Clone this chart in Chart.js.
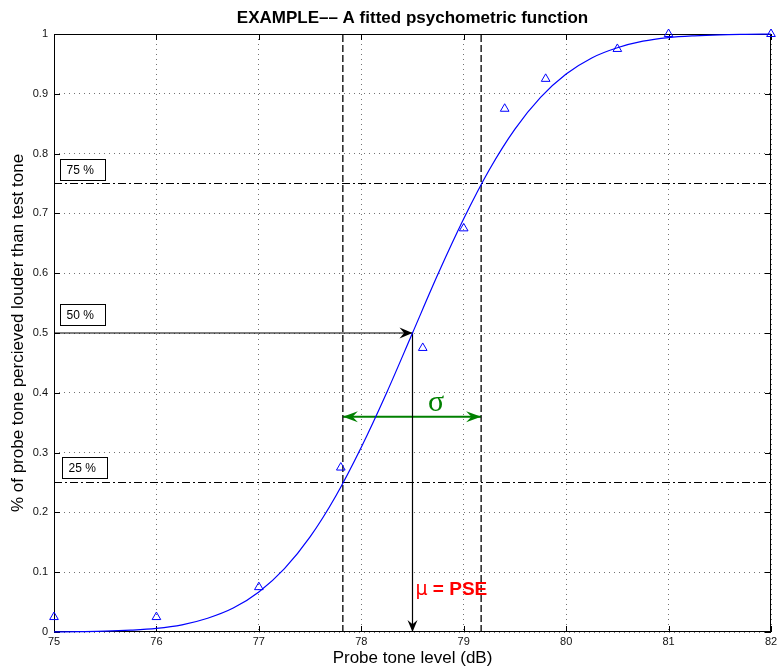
<!DOCTYPE html>
<html>
<head>
<meta charset="utf-8">
<script src="https://cdn.jsdelivr.net/npm/chart.js@4.4.1/dist/chart.umd.min.js"></script>
<style>
  html, body { margin: 0; padding: 0; background: #fff; }
</style>
</head>
<body>
<canvas id="psyChart" width="777" height="671"></canvas>
<script>
// observed proportions of "louder" responses
var levels = [75, 76, 77, 77.8, 78.6, 79, 79.4, 79.8, 80.5, 81, 82];
var proportions = [0.025, 0.025, 0.075, 0.275, 0.475, 0.675, 0.875, 0.925, 0.975, 1, 1];

// fitted psychometric curve
var fitLevels = [75, 75.25, 75.5, 75.75, 76, 76.25, 76.5, 76.75, 77, 77.25, 77.5, 77.75,
                 78, 78.25, 78.5, 78.75, 79, 79.25, 79.5, 79.75, 80, 80.25, 80.5, 80.75,
                 81, 81.25, 81.5, 81.75, 82];
var fitValues = [0.0002, 0.0006, 0.0013, 0.003, 0.006, 0.012, 0.023, 0.04, 0.067, 0.106, 0.159, 0.227,
                 0.309, 0.401, 0.5, 0.599, 0.691, 0.773, 0.841, 0.894, 0.933, 0.96, 0.977, 0.988,
                 0.994, 0.997, 0.9987, 0.9994, 0.9998];

// reference markers
var pse = 78.5;
var quartileLevels = [77.82, 79.17];
var quartileValues = [0.25, 0.75];
var sigmaY = 0.36;

// box labels: [text, x, y]
var boxLabels = [["75 %", 75.06, 0.775], ["50 %", 75.06, 0.531], ["25 %", 75.08, 0.276]];

var xRange = [75, 82];
var yRange = [0, 1];

var ctx = document.getElementById("psyChart").getContext("2d");

var green = "rgb(0,128,0)";

function pts(xs, ys) {
    return xs.map(function (x, i) { return {x: x, y: ys[i]}; });
}

var datasets = [
    {
        label: "fit",
        data: pts(fitLevels, fitValues),
        showLine: true,
        borderColor: "#0000ff",
        borderWidth: 1.2,
        pointRadius: 0,
        cubicInterpolationMode: "monotone",
        clip: 4
    },
    {
        label: "data",
        data: pts(levels, proportions),
        pointStyle: "triangle",
        pointRadius: 5,
        borderColor: "#0000ff",
        backgroundColor: "rgba(0,0,0,0)",
        pointBorderWidth: 1,
        clip: false
    }
];

// dash-dot lines at 25 % / 75 %
quartileValues.forEach(function (v) {
    datasets.push({
        data: [{x: xRange[0], y: v}, {x: xRange[1], y: v}],
        showLine: true, borderColor: "#000", borderWidth: 1,
        borderDash: [8, 3, 2, 3], pointRadius: 0
    });
});
// dashed lines at the quartile levels
quartileLevels.forEach(function (l) {
    datasets.push({
        data: [{x: l, y: yRange[0]}, {x: l, y: yRange[1]}],
        showLine: true, borderColor: "#000", borderWidth: 1.3,
        borderDash: [7, 3], pointRadius: 0
    });
});
// arrow from 50 % to the PSE and down to the axis
datasets.push({
    label: "pseArrow",
    data: [{x: xRange[0], y: 0.5}, {x: pse, y: 0.5}, {x: pse, y: 0}],
    showLine: true, borderColor: "#000", borderWidth: 1.2, pointRadius: 0, clip: false
});
// sigma span
datasets.push({
    label: "sigma",
    data: [{x: quartileLevels[0], y: sigmaY}, {x: quartileLevels[1], y: sigmaY}],
    showLine: true, borderColor: green, borderWidth: 2, pointRadius: 0
});

function arrowHead(c, x, y, ang, len, half, color) {
    c.save();
    c.translate(x, y);
    c.rotate(ang);
    c.fillStyle = color;
    c.beginPath();
    c.moveTo(0, 0);
    c.lineTo(-len, -half);
    c.lineTo(-len * 0.65, 0);
    c.lineTo(-len, half);
    c.closePath();
    c.fill();
    c.restore();
}

var decor = {
    id: "decor",
    beforeDatasetsDraw: function (chart) {
        var c = chart.ctx, a = chart.chartArea;
        var xs = chart.scales.x, ys = chart.scales.y;
        c.save();
        c.strokeStyle = "#000";
        c.lineWidth = 1;
        c.strokeRect(a.left + 0.5, a.top + 0.5, a.right - a.left - 1, a.bottom - a.top - 1);
        // inward tick marks on all four sides
        c.beginPath();
        xs.ticks.forEach(function (t) {
            var px = Math.round(xs.getPixelForValue(t.value)) + 0.5;
            c.moveTo(px, a.bottom); c.lineTo(px, a.bottom - 6);
            c.moveTo(px, a.top); c.lineTo(px, a.top + 6);
        });
        ys.ticks.forEach(function (t) {
            var py = Math.round(ys.getPixelForValue(t.value)) + 0.5;
            c.moveTo(a.left, py); c.lineTo(a.left + 6, py);
            c.moveTo(a.right, py); c.lineTo(a.right - 6, py);
        });
        c.stroke();
        c.restore();
    },
    afterDatasetsDraw: function (chart) {
        var c = chart.ctx, a = chart.chartArea;
        var xs = chart.scales.x, ys = chart.scales.y;
        var px = function (v) { return xs.getPixelForValue(v); };
        var py = function (v) { return ys.getPixelForValue(v); };

        // arrow heads
        arrowHead(c, px(pse), py(0.5), 0, 13, 5.5, "#000");
        arrowHead(c, px(pse), py(0), Math.PI / 2, 12, 5, "#000");
        arrowHead(c, px(quartileLevels[0]), py(sigmaY), Math.PI, 15, 5.5, green);
        arrowHead(c, px(quartileLevels[1]), py(sigmaY), 0, 15, 5.5, green);

        c.save();
        // title
        c.fillStyle = "#000";
        c.font = "bold 17px 'Liberation Sans', Arial, sans-serif";
        c.textAlign = "center";
        c.textBaseline = "middle";
        c.fillText("EXAMPLE\u2013\u2013 A fitted psychometric function", (a.left + a.right) / 2, 18);

        // boxed percentage labels
        c.font = "12px 'Liberation Sans', Arial, sans-serif";
        c.textAlign = "left";
        boxLabels.forEach(function (b) {
            var bx = Math.round(px(b[1])) + 0.5, by = Math.round(py(b[2])) - 10 + 0.5;
            c.fillStyle = "#fff";
            c.fillRect(bx, by, 45, 21);
            c.strokeStyle = "#000";
            c.lineWidth = 1;
            c.strokeRect(bx, by, 45, 21);
            c.fillStyle = "#000";
            c.fillText(b[0], bx + 6, by + 11);
        });

        // sigma label
        c.fillStyle = green;
        c.font = "30px 'Liberation Serif', serif";
        c.textAlign = "center";
        c.fillText("\u03c3", px(78.73), py(0.383));

        // PSE label
        c.fillStyle = "#ff0000";
        c.textAlign = "left";
        c.textBaseline = "alphabetic";
        var tx = px(pse) + 3, ty = py(0.062);
        c.font = "19px 'DejaVu Sans', sans-serif";
        c.fillText("\u03bc", tx, ty);
        var mw = c.measureText("\u03bc").width;
        c.font = "bold 19px 'Liberation Sans', Arial, sans-serif";
        c.fillText(" = PSE", tx + mw, ty);
        c.restore();
    }
};

var tickFont = {family: "'Liberation Sans', Arial, sans-serif", size: 11};
var titleFont = {family: "'Liberation Sans', Arial, sans-serif", size: 17};

new Chart(ctx, {
    type: "scatter",
    data: {datasets: datasets},
    options: {
        responsive: false,
        animation: false,
        layout: {padding: {top: 34, right: 4, left: 0, bottom: 0}},
        plugins: {legend: {display: false}, tooltip: {enabled: false}},
        scales: {
            x: {
                type: "linear", min: xRange[0], max: xRange[1],
                ticks: {stepSize: 1, color: "#111", font: tickFont, padding: 3},
                grid: {color: "rgba(0,0,0,0.55)", drawTicks: false},
                border: {display: false, dash: [1, 4]},
                title: {display: true, text: "Probe tone level (dB)", color: "#000", font: titleFont,
                        padding: {top: 0, bottom: 2}},
                afterFit: function (s) { s.height = 39; s.paddingLeft = 0; s.paddingRight = 0; }
            },
            y: {
                type: "linear", min: yRange[0], max: yRange[1],
                ticks: {stepSize: 0.1, color: "#111", font: tickFont, padding: 6,
                        callback: function (v) { return +v.toFixed(1); }},
                grid: {color: "rgba(0,0,0,0.55)", drawTicks: false},
                border: {display: false, dash: [1, 4]},
                title: {display: true, text: "% of probe tone percieved louder than test tone", color: "#000",
                        font: titleFont, padding: {top: 8, bottom: 0}},
                afterFit: function (s) { s.width = 54; s.paddingTop = 0; s.paddingBottom = 0; }
            }
        }
    },
    plugins: [decor]
});
</script>
</body>
</html>
